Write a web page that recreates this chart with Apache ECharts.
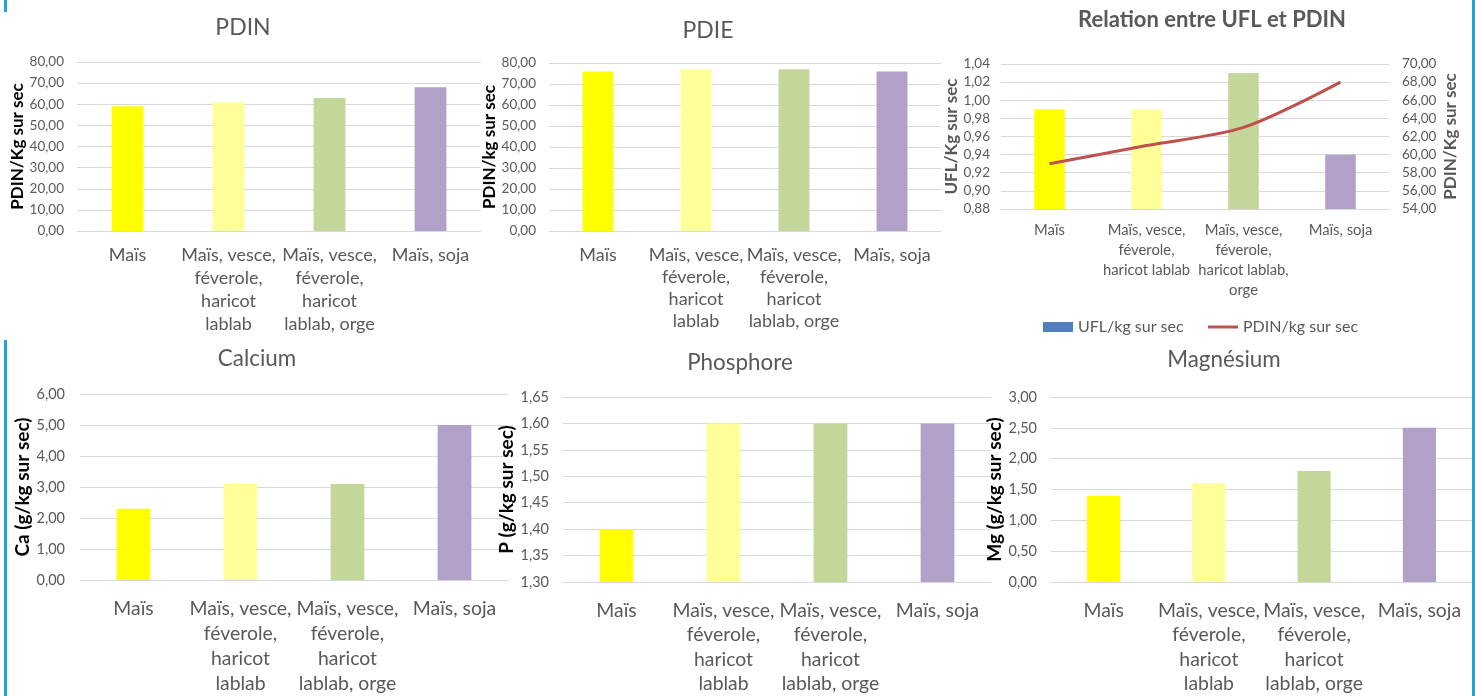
<!DOCTYPE html>
<html><head><meta charset="utf-8">
<script src="https://cdn.jsdelivr.net/npm/echarts@6/dist/echarts.min.js"></script>
<style>
html,body{margin:0;padding:0;background:#fff;}
#wrap{position:relative;width:1475px;height:696px;overflow:hidden;}
#c{width:1475px;height:696px;}
.b{position:absolute;background:#1AA6DE;}
</style>
</head><body>
<div id="wrap">
<div id="c"></div>
<div class="b" style="left:4px;top:0;width:3px;height:12px"></div>
<div class="b" style="left:4px;top:340px;width:3px;height:356px"></div>
<div class="b" style="left:1472px;top:0;width:3px;height:696px"></div>
</div>
<script>
const categories = ['Maïs', 'Maïs, vesce, féverole, haricot lablab', 'Maïs, vesce, féverole, haricot lablab, orge', 'Maïs, soja'];
const tickLabelsWide = ['Maïs', 'Maïs, vesce,\nféverole,\nharicot\nlablab', 'Maïs, vesce,\nféverole,\nharicot\nlablab, orge', 'Maïs, soja'];
const tickLabelsRelation = ['Maïs', 'Maïs, vesce,\nféverole,\nharicot lablab', 'Maïs, vesce,\nféverole,\nharicot lablab,\norge', 'Maïs, soja'];
const barColors = ['#FFFF00', '#FFFF99', '#C4D79B', '#B1A0C7'];
const pdinValues = [59, 61, 63, 68];
const pdieValues = [76, 77, 77, 76];
const uflValues = [0.99, 0.99, 1.03, 0.94];
const calciumValues = [2.3, 3.1, 3.1, 5.0];
const phosphoreValues = [1.40, 1.60, 1.60, 1.60];
const magnesiumValues = [1.4, 1.6, 1.8, 2.5];

const FONT = 'Lato';
const GREY = '#595959';
const GRID = '#D9D9D9';
const fmt = d => v => Number(v).toFixed(d).replace('.', ',');
const colored = vals => vals.map((v, i) => ({ value: v, itemStyle: { color: barColors[i] } }));

const option = { animation: false, textStyle: { fontFamily: FONT }, title: [], grid: [], xAxis: [], yAxis: [], series: [] };

function panel(p) {
  const gi = option.grid.length;
  option.title.push({ text: p.title, left: p.tx, top: p.ty, textAlign: 'center', padding: 0,
    textStyle: { fontFamily: FONT, fontSize: p.tSize, fontWeight: p.tBold ? 'bold' : 'normal', color: GREY } });
  option.grid.push({ left: p.g[0], top: p.g[1], width: p.g[2], height: p.g[3] });
  option.xAxis.push({ type: 'category', gridIndex: gi, data: categories,
    axisTick: { show: false }, axisLine: { lineStyle: { color: GRID, width: 1 } },
    axisLabel: { interval: 0, margin: p.xMargin, color: GREY, fontFamily: FONT, fontSize: p.xSize, lineHeight: p.xLH,
      formatter: (v, i) => p.ticks[i] } });
  const yi = option.yAxis.length;
  option.yAxis.push({ type: 'value', gridIndex: gi, min: p.min, max: p.max, interval: p.interval,
    name: p.yName, nameLocation: 'middle', nameGap: p.nameGap,
    nameTextStyle: { fontFamily: FONT, fontSize: p.nSize, fontWeight: 'bold', color: p.nColor || '#000' },
    axisLine: { show: false }, axisTick: { show: false },
    splitLine: { lineStyle: { color: GRID, width: 1 } },
    axisLabel: { margin: p.yMargin, color: GREY, fontFamily: FONT, fontSize: p.ySize, formatter: fmt(p.dec) } });
  option.series.push({ type: 'bar', name: p.seriesName || p.title, xAxisIndex: gi, yAxisIndex: yi,
    barWidth: '31.5%', data: colored(p.values), itemStyle: { color: '#4F81BD' } });
  return gi;
}

panel({ title: 'PDIN', tx: 243, ty: 16, tSize: 23, g: [77, 62, 404, 169], min: 0, max: 80, interval: 10, dec: 2,
  yName: 'PDIN/Kg sur sec', nameGap: 50, nSize: 17, yMargin: 13, ySize: 13.5,
  ticks: tickLabelsWide, xSize: 18, xLH: 23, xMargin: 13, values: pdinValues });
panel({ title: 'PDIE', tx: 708, ty: 19, tSize: 23, g: [549, 63, 392, 168], min: 0, max: 80, interval: 10, dec: 2,
  yName: 'PDIN/kg sur sec', nameGap: 51, nSize: 17, yMargin: 13, ySize: 13.5,
  ticks: tickLabelsWide, xSize: 18, xLH: 22, xMargin: 13, values: pdieValues });
const g3 = panel({ title: 'Relation entre UFL et PDIN', tx: 1212, ty: 9, tSize: 22, tBold: true, g: [1001, 64, 388, 145],
  min: 0.88, max: 1.04, interval: 0.02, dec: 2, seriesName: 'UFL/kg sur sec',
  yName: 'UFL/Kg sur sec', nameGap: 41, nSize: 17, nColor: GREY, yMargin: 11, ySize: 13.5,
  ticks: tickLabelsRelation, xSize: 14.8, xLH: 20, xMargin: 11, values: uflValues });
option.yAxis.push({ type: 'value', gridIndex: g3, position: 'right', min: 54, max: 70, interval: 2,
  name: 'PDIN/Kg sur sec', nameLocation: 'middle', nameGap: 53,
  nameTextStyle: { fontFamily: FONT, fontSize: 17, fontWeight: 'bold', color: GREY },
  axisLine: { show: false }, axisTick: { show: false }, splitLine: { show: false },
  axisLabel: { margin: 13, color: GREY, fontFamily: FONT, fontSize: 13.5, formatter: fmt(2) } });
option.series.push({ type: 'line', name: 'PDIN/kg sur sec', xAxisIndex: g3, yAxisIndex: option.yAxis.length - 1,
  data: pdinValues, smooth: 0.3, symbol: 'none', lineStyle: { color: '#C0504D', width: 3 }, itemStyle: { color: '#C0504D' } });
option.legend = [
  { left: 1043, top: 319, itemWidth: 30, itemHeight: 10, padding: 0,
    textStyle: { fontFamily: FONT, fontSize: 16, color: GREY },
    data: [{ name: 'UFL/kg sur sec', icon: 'rect' }] },
  { left: 1208, top: 319, itemWidth: 30, itemHeight: 3, padding: 0,
    textStyle: { fontFamily: FONT, fontSize: 16, color: GREY },
    data: [{ name: 'PDIN/kg sur sec', icon: 'rect' }] }
];

panel({ title: 'Calcium', tx: 257, ty: 348, tSize: 22.4, g: [80, 394, 428, 189], min: 0, max: 6, interval: 1, dec: 2,
  yName: 'Ca (g/kg sur sec)', nameGap: 46, nSize: 19, yMargin: 15, ySize: 14.5,
  ticks: tickLabelsWide, xSize: 19.4, xLH: 25, xMargin: 16, values: calciumValues });
panel({ title: 'Phosphore', tx: 740, ty: 352, tSize: 22.4, g: [563, 397, 428, 189], min: 1.30, max: 1.65, interval: 0.05, dec: 2,
  yName: 'P (g/kg sur sec)', nameGap: 44, nSize: 19, yMargin: 14, ySize: 14.5,
  ticks: tickLabelsWide, xSize: 19.4, xLH: 24.5, xMargin: 16, values: phosphoreValues });
panel({ title: 'Magnésium', tx: 1224, ty: 349, tSize: 22.4, g: [1051, 397, 421, 189], min: 0, max: 3, interval: 0.5, dec: 2,
  yName: 'Mg (g/kg sur sec)', nameGap: 45, nSize: 19, yMargin: 14, ySize: 14.5,
  ticks: tickLabelsWide, xSize: 19.4, xLH: 24.5, xMargin: 16, values: magnesiumValues });

const chart = echarts.init(document.getElementById('c'), null, { renderer: 'canvas' });
chart.setOption(option);
</script>
</body></html>
